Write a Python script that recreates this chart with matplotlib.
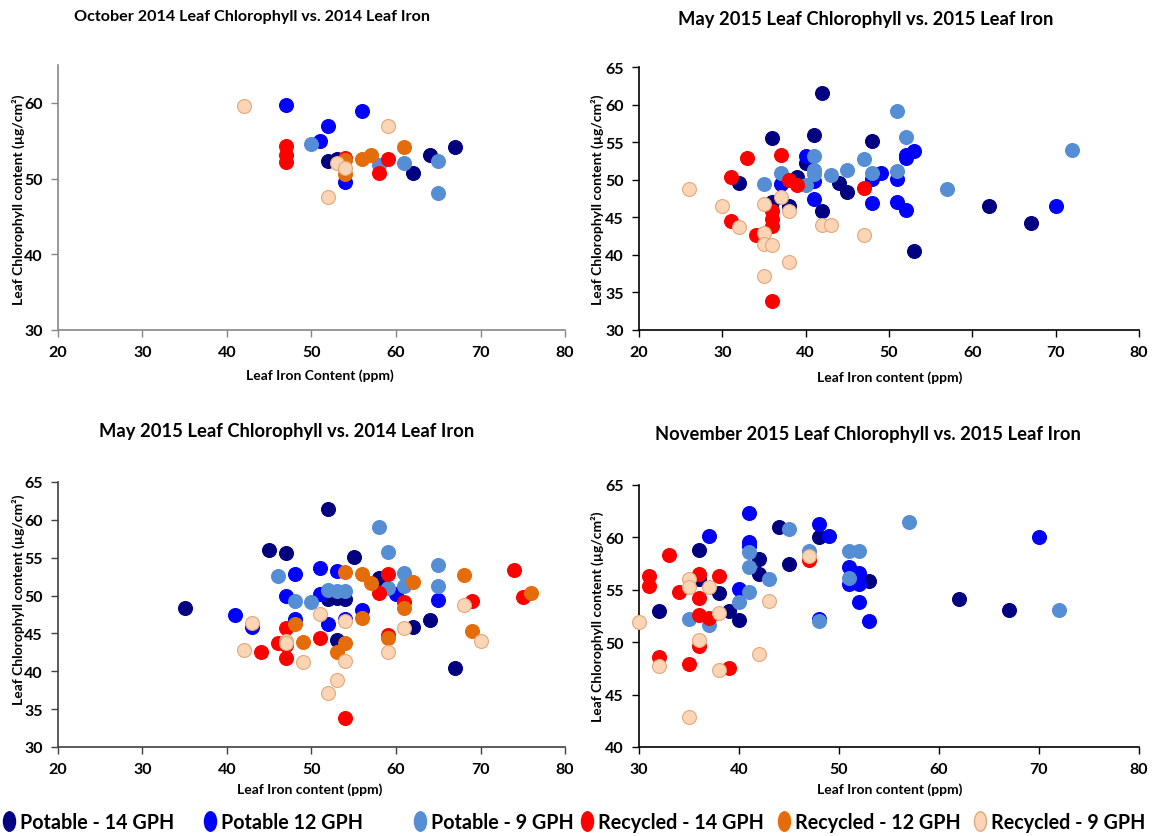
import matplotlib
matplotlib.use("Agg")
import matplotlib.pyplot as plt
from matplotlib.lines import Line2D
from matplotlib.path import Path
import numpy as np

# ---------------- data ----------------
SERIES = ["Potable - 14 GPH", "Potable 12 GPH", "Potable - 9 GPH",
          "Recycled - 14 GPH", "Recycled - 12 GPH", "Recycled - 9 GPH"]
FACE = ["#000080", "#0000FF", "#558ED5", "#FF0000", "#E46C0A", "#FBD5B5"]
EDGE = ["#000080", "#0000FF", "#558ED5", "#FF0000", "#E46C0A", "#E3A878"]

TITLES = ["October 2014 Leaf Chlorophyll vs. 2014 Leaf Iron",
          "May 2015 Leaf Chlorophyll vs. 2015 Leaf Iron",
          "May 2015 Leaf Chlorophyll vs. 2014 Leaf Iron",
          "November 2015 Leaf Chlorophyll vs. 2015 Leaf Iron"]
XLABELS = ["Leaf Iron Content (ppm)", "Leaf Iron content (ppm)",
           "Leaf Iron content (ppm)", "Leaf Iron content (ppm)"]
YLABEL = "Leaf Chlorophyll content (µg/cm²)"

# Panel A: October 2014 chlorophyll vs 2014 iron
A_P14_X = [52, 53, 62, 64, 67]
A_P14_Y = [52.3, 52.6, 50.7, 53.1, 54.2]
A_P12_X = [47, 56, 52, 51, 54]
A_P12_Y = [59.7, 58.95, 56.9, 55.0, 49.5]
A_P9_X = [50, 58, 61, 65, 65]
A_P9_Y = [54.6, 51.8, 52.05, 52.3, 48.1]
A_R14_X = [47, 47, 47, 54, 58, 59]
A_R14_Y = [54.3, 53.1, 52.2, 52.7, 50.7, 52.6]
A_R12_X = [54, 54, 56, 57, 61]
A_R12_Y = [52.4, 50.6, 52.6, 53.1, 54.2]
A_R9_X = [42, 59, 53, 54, 52]
A_R9_Y = [59.65, 57.0, 52.0, 51.4, 47.6]

# Panel B: May 2015 chlorophyll vs 2015 iron
B_P14_X = [42, 36, 41, 48, 40, 32, 39, 44, 45, 42, 36, 38, 53, 62, 67]
B_P14_Y = [61.5, 55.6, 56.0, 55.1, 52.2, 49.5, 50.4, 49.6, 48.3, 45.9, 47.0, 46.5, 40.5, 46.5, 44.2]
B_P12_X = [53, 52, 52, 40, 49, 51, 48, 41, 37, 41, 48, 51, 52, 70]
B_P12_Y = [53.8, 52.9, 53.3, 53.2, 50.9, 50.15, 50.15, 49.8, 49.4, 47.4, 46.9, 47.0, 46.0, 46.5]
B_P9_X = [51, 52, 41, 47, 41, 41, 43, 45, 37, 48, 51, 35, 40, 57, 72]
B_P9_Y = [59.1, 55.7, 53.1, 52.7, 51.3, 50.7, 50.6, 51.3, 50.9, 50.9, 51.2, 49.4, 49.3, 48.75, 54.0]
B_R14_X = [33, 37, 31, 38, 39, 47, 36, 36, 36, 31, 34, 36]
B_R14_Y = [52.9, 53.3, 50.4, 49.9, 49.3, 48.9, 45.8, 44.8, 43.8, 44.5, 42.7, 33.9]
B_R12_X = []
B_R12_Y = []
B_R9_X = [26, 30, 35, 37, 38, 32, 42, 43, 47, 35, 35, 36, 38, 35]
B_R9_Y = [48.7, 46.5, 46.8, 47.65, 45.8, 43.7, 44.0, 44.0, 42.6, 42.9, 41.4, 41.3, 39.0, 37.2]

# Panel C: May 2015 chlorophyll vs 2014 iron
C_P14_X = [35, 45, 47, 52, 55, 58, 52, 53, 54, 62, 64, 67, 53]
C_P14_Y = [48.3, 56.0, 55.6, 61.5, 55.1, 52.3, 49.5, 49.7, 49.5, 45.9, 46.8, 40.4, 44.1]
C_P12_X = [41, 48, 47, 48, 43, 51, 53, 51, 65, 56, 60, 52, 54]
C_P12_Y = [47.4, 52.8, 49.9, 46.9, 45.8, 53.7, 53.2, 50.2, 49.4, 48.1, 50.2, 46.3, 46.9]
C_P9_X = [46, 48, 50, 58, 59, 61, 61, 65, 65, 52, 53, 54, 59]
C_P9_Y = [52.6, 49.3, 49.1, 59.1, 55.7, 53.0, 51.3, 54.0, 51.2, 50.8, 50.6, 50.6, 51.0]
C_R14_X = [47, 46, 47, 44, 47, 59, 58, 61, 69, 74, 75, 51, 54, 59]
C_R14_Y = [45.7, 43.8, 43.5, 42.6, 41.7, 52.8, 50.4, 49.1, 49.3, 53.4, 49.8, 44.4, 33.8, 44.8]
C_R12_X = [48, 49, 54, 56, 57, 62, 61, 68, 76, 69, 56, 54, 53, 59]
C_R12_Y = [46.3, 43.9, 53.1, 52.9, 51.6, 51.8, 48.4, 52.7, 50.4, 45.3, 47.0, 43.7, 42.6, 44.4]
C_R9_X = [43, 47, 42, 49, 61, 68, 70, 51, 54, 54, 53, 52, 59, 47]
C_R9_Y = [46.4, 44.0, 42.8, 41.2, 45.7, 48.7, 44.0, 47.6, 46.6, 41.3, 38.9, 37.1, 42.5, 43.8]

# Panel D: November 2015 chlorophyll vs 2015 iron
D_P14_X = [36, 36, 32, 38, 39, 40, 42, 42, 44, 45, 48, 53, 62, 67]
D_P14_Y = [58.8, 56.0, 53.0, 54.7, 53.0, 52.15, 57.9, 56.5, 60.95, 57.5, 60.0, 55.8, 54.1, 53.1]
D_P12_X = [37, 41, 41, 41, 40, 48, 49, 51, 52, 51, 52, 52, 53, 48, 70]
D_P12_Y = [60.1, 62.3, 59.6, 59.2, 55.1, 61.3, 60.1, 57.15, 56.6, 55.6, 55.6, 53.8, 52.0, 52.2, 60.0]
D_P9_X = [41, 41, 43, 41, 40, 35, 37, 45, 47, 51, 52, 51, 48, 57, 72]
D_P9_Y = [58.6, 57.2, 56.0, 54.8, 53.8, 52.25, 51.6, 60.8, 58.7, 58.7, 58.7, 56.1, 52.0, 61.5, 53.1]
D_R14_X = [31, 31, 33, 34, 36, 38, 36, 36, 37, 36, 32, 35, 39, 47]
D_R14_Y = [56.3, 55.4, 58.3, 54.8, 56.5, 56.3, 54.2, 52.6, 52.3, 49.6, 48.55, 47.9, 47.5, 57.8]
D_R12_X = []
D_R12_Y = []
D_R9_X = [30, 35, 35, 37, 38, 43, 36, 32, 38, 42, 35, 47]
D_R9_Y = [51.9, 56.0, 55.3, 55.3, 52.8, 53.9, 50.25, 47.75, 47.3, 48.9, 42.9, 58.2]

PANELS = [
    [(A_P14_X, A_P14_Y), (A_P12_X, A_P12_Y), (A_P9_X, A_P9_Y),
     (A_R14_X, A_R14_Y), (A_R12_X, A_R12_Y), (A_R9_X, A_R9_Y)],
    [(B_P14_X, B_P14_Y), (B_P12_X, B_P12_Y), (B_P9_X, B_P9_Y),
     (B_R14_X, B_R14_Y), (B_R12_X, B_R12_Y), (B_R9_X, B_R9_Y)],
    [(C_P14_X, C_P14_Y), (C_P12_X, C_P12_Y), (C_P9_X, C_P9_Y),
     (C_R14_X, C_R14_Y), (C_R12_X, C_R12_Y), (C_R9_X, C_R9_Y)],
    [(D_P14_X, D_P14_Y), (D_P12_X, D_P12_Y), (D_P9_X, D_P9_Y),
     (D_R14_X, D_R14_Y), (D_R12_X, D_R12_Y), (D_R9_X, D_R9_Y)],
]
XLIMS = [(20, 80), (20, 80), (20, 80), (30, 80)]
YLIMS = [(30, 65), (30, 65), (30, 65), (40, 65)]
XTICKS = [[20, 30, 40, 50, 60, 70, 80]] * 3 + [[30, 40, 50, 60, 70, 80]]
YTICKS = [[30, 40, 50, 60], [30, 35, 40, 45, 50, 55, 60, 65],
          [30, 35, 40, 45, 50, 55, 60, 65], [40, 45, 50, 55, 60, 65]]

# ---------------- layout (pixels) ----------------
W, H = 1163, 837
FONT = ["Lato", "DejaVu Sans"]

fig = plt.figure(figsize=(W / 100, H / 100), dpi=100)

# left, right, top, bottom in pixel coords
BOXES = [(58, 565, 66, 331), (639, 1139, 68, 331),
         (58, 565, 483, 748), (639, 1139, 486, 748)]
TITLE_POS = [(252, 17), (866, 19), (287, 431), (868, 435)]
TITLE_SIZE = [11.6, 13.2, 13.2, 13.2]
XLAB_POS = [(320, 376), (890, 378), (310, 790), (890, 790)]
YLAB_POS = [(18, 200), (597, 200), (18, 600), (597, 617)]
SPINE_COL = ["#868686", "#000000", "#404040", "#000000"]

for i in range(4):
    l, r, t, b = BOXES[i]
    ax = fig.add_axes([l / W, (H - b) / H, (r - l) / W, (b - t) / H])
    for k, (xs, ys) in enumerate(PANELS[i]):
        if len(xs):
            ax.scatter(xs, ys, s=100, c=FACE[k], edgecolors=EDGE[k],
                       linewidths=0.8, zorder=3 + k, clip_on=False)
    ax.set_xlim(*XLIMS[i])
    ax.set_ylim(*YLIMS[i])
    ax.set_xticks(XTICKS[i])
    ax.set_yticks(YTICKS[i])
    for s in ["top", "right"]:
        ax.spines[s].set_visible(False)
    for s in ["left", "bottom"]:
        ax.spines[s].set_color(SPINE_COL[i])
        ax.spines[s].set_linewidth(1.2)
    ax.tick_params(direction="out", length=5, width=1, color=SPINE_COL[i],
                   pad=6)
    for lab in ax.get_xticklabels() + ax.get_yticklabels():
        lab.set_fontfamily(FONT)
        lab.set_fontweight("bold")
        lab.set_fontsize(11.5)
    fig.text(TITLE_POS[i][0] / W, 1 - TITLE_POS[i][1] / H, TITLES[i],
             ha="center", va="center", fontsize=TITLE_SIZE[i],
             fontweight="bold", family=FONT)
    fig.text(XLAB_POS[i][0] / W, 1 - XLAB_POS[i][1] / H, XLABELS[i],
             ha="center", va="center", fontsize=10, fontweight="bold",
             family=FONT)
    fig.text(YLAB_POS[i][0] / W, 1 - YLAB_POS[i][1] / H, YLABEL,
             ha="center", va="center", fontsize=10, fontweight="bold",
             family=FONT, rotation=90)

# ---------------- legend ----------------
_circ = Path.unit_circle()
ELLIPSE = Path(_circ.vertices * np.array([0.62, 1.0]), _circ.codes)
LEG_X = [12, 213, 423, 590, 787, 983]
for k in range(6):
    h = Line2D([], [], marker=ELLIPSE, linestyle="none", markersize=14,
               markerfacecolor=FACE[k], markeredgecolor=EDGE[k])
    fig.legend([h], [SERIES[k]], loc="center left",
               bbox_to_anchor=((LEG_X[k] - 7) / W, 1 - 823 / H),
               frameon=False, handlelength=0.45, handletextpad=0.3,
               borderpad=0, borderaxespad=0,
               prop={"family": FONT, "weight": "bold", "size": 14.2})

fig.savefig("out.png", dpi=100)
